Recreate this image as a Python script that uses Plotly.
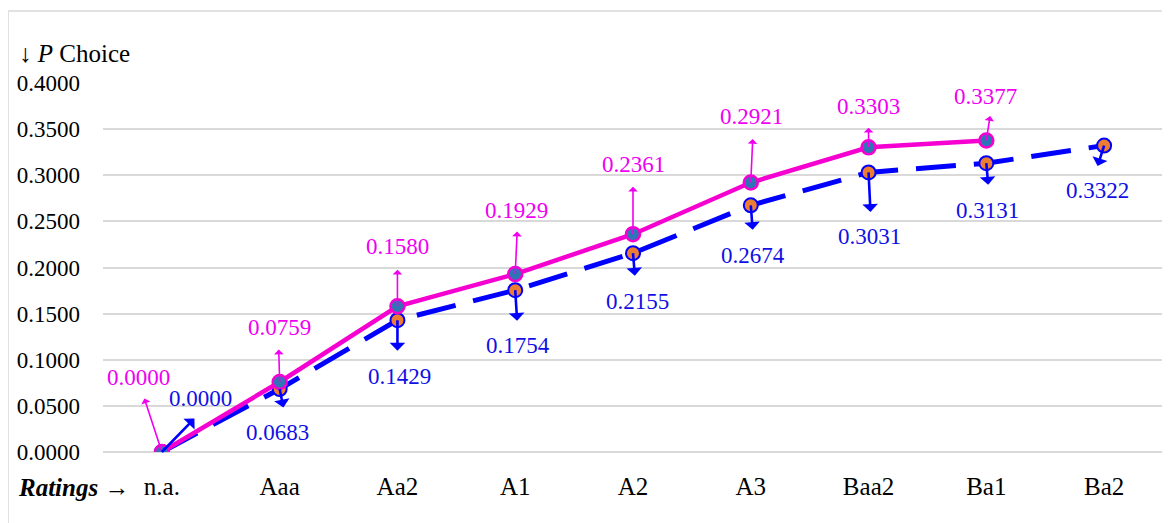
import plotly.graph_objects as go

# dane
ratings = ["n.a.", "Aaa", "Aa2", "A1", "A2", "A3", "Baa2", "Ba1", "Ba2"]
p_pink = [0.0000, 0.0759, 0.1580, 0.1929, 0.2361, 0.2921, 0.3303, 0.3377, None]
p_blue = [0.0000, 0.0683, 0.1429, 0.1754, 0.2155, 0.2674, 0.3031, 0.3131, 0.3322]

# przesunięcia strzałek i etykiet (piksele)
pink_arrow = [(-18, -55), (-1, -34), (0, -38), (2, -44), (0, -49), (2, -45), (0, -21), (4, -26)]
pink_label = [(-23, 75), (0, 54), (0, 60), (1, 64), (0, 70), (1, 66), (0, 41), (-1, 44)]
blue_arrow = [(34, -35), (4, 20), (0, 32), (2, 32), (2, 24), (2, 26), (2, 41), (2, 23), (-7, 22)]
blue_label = [(39, 54), (-2, -44), (2, -56), (3, -55), (4, -48), (2, -50), (1, -64), (1, -47), (-7, -45)]

PINK_LINE = "#f500d0"
PINK = "#f000f0"
BLUE = "#0000ff"
BLUE_TXT = "#1010e6"
FONT = "Liberation Serif"
FS = 23
FS_TXT = 25

fig = go.Figure()

fig.add_trace(go.Scatter(
    x=ratings, y=p_blue, mode="lines+markers",
    line=dict(color=BLUE, width=5, dash="40px,18px"),
    marker=dict(size=14, color="#ed7d31", line=dict(color=BLUE, width=2)),
    showlegend=False, hoverinfo="skip"
))
fig.add_trace(go.Scatter(
    x=ratings[:8], y=p_pink[:8], mode="lines+markers",
    line=dict(color=PINK_LINE, width=4.5),
    marker=dict(size=14, color="#2e75b6", line=dict(color=PINK_LINE, width=2.5)),
    showlegend=False, hoverinfo="skip"
))

# strzałki i etykiety
for i, v in enumerate(p_pink):
    if v is None:
        continue
    ax, ay = pink_arrow[i]
    fig.add_annotation(x=ratings[i], y=v, ax=ax, ay=ay, text="", font=dict(size=1),
                       showarrow=True, arrowside="start", arrowhead=2, arrowsize=2.4,
                       arrowwidth=1.6, arrowcolor=PINK, standoff=0, startstandoff=0)
    dx, dy = pink_label[i]
    fig.add_annotation(x=ratings[i], y=v, text=f"{v:.4f}", showarrow=False,
                       xshift=dx, yshift=dy, font=dict(family=FONT, size=FS, color=PINK))

for i, v in enumerate(p_blue):
    ax, ay = blue_arrow[i]
    fig.add_annotation(x=ratings[i], y=v, ax=ax, ay=ay, text="", font=dict(size=1),
                       showarrow=True, arrowside="start", arrowhead=2, arrowsize=1.4,
                       arrowwidth=2.6, arrowcolor=BLUE, standoff=0, startstandoff=0)
    dx, dy = blue_label[i]
    fig.add_annotation(x=ratings[i], y=v, text=f"{v:.4f}", showarrow=False,
                       xshift=dx, yshift=dy, font=dict(family=FONT, size=FS, color=BLUE_TXT))

# tytuły osi
fig.add_annotation(xref="paper", yref="paper", x=-0.0811, y=1.081, xanchor="left",
                   yanchor="middle", text="↓ <i>P</i> Choice", showarrow=False,
                   font=dict(family=FONT, size=FS_TXT, color="black"))
fig.add_annotation(xref="paper", yref="paper", x=-0.082, y=-0.095, xanchor="left",
                   yanchor="middle", text="<b><i>Ratings</i></b> →", showarrow=False,
                   font=dict(family=FONT, size=FS_TXT, color="black"))

# ramka wykresu
fig.add_shape(type="line", xref="paper", yref="paper", x0=-0.0896, x1=-0.0896, y0=-0.5, y1=1.195,
              line=dict(color="#d9d9d9", width=1.5))
fig.add_shape(type="line", xref="paper", yref="paper", x0=-0.0896, x1=1.2, y0=1.195, y1=1.195,
              line=dict(color="#d9d9d9", width=1.5))

fig.update_layout(
    width=1162, height=515,
    margin=dict(l=95, r=7, t=75, b=71),
    plot_bgcolor="white", paper_bgcolor="white",
    font=dict(family=FONT, size=FS, color="black"),
    xaxis=dict(type="category", categoryorder="array", categoryarray=ratings,
               range=[-0.5, 8.5], showgrid=False, showline=False, zeroline=False,
               ticks="", ticklabelstandoff=17,
               tickfont=dict(family=FONT, size=FS_TXT, color="black")),
    yaxis=dict(range=[0, 0.4], dtick=0.05, tickformat=".4f", showgrid=True,
               gridcolor="#d9d9d9", gridwidth=1.5, zeroline=True, zerolinecolor="#d9d9d9",
               zerolinewidth=1.5, showline=False, ticklabelstandoff=22,
               tickfont=dict(family=FONT, size=FS, color="black")),
)

fig.write_html("out.html")
